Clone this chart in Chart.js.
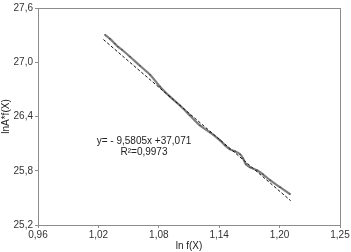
<!DOCTYPE html>
<html><head><meta charset="utf-8">
<script src="https://cdn.jsdelivr.net/npm/chart.js@4.4.0/dist/chart.umd.min.js"></script>
<style>html,body{margin:0;padding:0;background:#fff}#wrap{width:351px;height:252px}</style>
</head><body><div id="wrap"><canvas id="c"></canvas></div>
<script>
const lnF = [1.0266,1.0315,1.0365,1.0395,1.0434,1.0514,1.0613,1.0713,1.0812,1.0911,1.1011,1.1110,1.1209,1.1309,1.1408,1.1458,1.1507,1.1557,1.1607,1.1636,1.1666,1.1706,1.1775,1.1835,1.1905,1.2004,1.2103];
const lnAF = [27.303,27.259,27.204,27.171,27.138,27.061,26.961,26.862,26.730,26.620,26.521,26.411,26.301,26.224,26.136,26.081,26.037,26.015,25.982,25.938,25.872,25.839,25.805,25.761,25.695,25.618,25.541];
const trendX = [1.025, 1.211];
const slope = -9.5805, intercept = 37.071;
const xTickLabels = ['0,96','1,02','1,08','1,14','1,20','1,25'];
const yTickLabels = ['25,2','25,8','26,4','27,0','27,6'];
const annotationLines = ['y= - 9,5805x +37,071','R\u00B2=0,9973'];

const dataPts = lnF.map((x,i)=>({x, y: lnAF[i]}));
const trendPts = trendX.map(x=>({x, y: slope*x+intercept}));

const frame = {
  id:'frame',
  afterDraw(chart){
    const {ctx, chartArea:a, scales} = chart;
    ctx.save();
    ctx.strokeStyle='#8c8c8c'; ctx.lineWidth=1;
    ctx.strokeRect(Math.round(a.left)+0.5, Math.round(a.top)+0.5, Math.round(a.right-a.left), Math.round(a.bottom-a.top));
    ctx.fillStyle='#222'; ctx.font='10px "Liberation Sans", Arial, sans-serif';
    ctx.textAlign='center'; ctx.textBaseline='middle';
    const cx = scales.x.getPixelForValue(1.0653);
    ctx.fillText(annotationLines[0], cx, scales.y.getPixelForValue(26.131));
    ctx.fillText(annotationLines[1], cx, scales.y.getPixelForValue(26.010));
    ctx.restore();
  }
};

new Chart(document.getElementById('c'), {
  type:'scatter',
  data:{datasets:[
    {data:trendPts, showLine:true, borderColor:'#111', borderWidth:1, borderDash:[3,2], pointRadius:0, order:0},
    {data:dataPts, showLine:true, borderColor:'#7e7e7e', borderWidth:2.2, tension:0.3, pointRadius:0.8, pointBackgroundColor:'#444', pointBorderWidth:0, order:1}
  ]},
  plugins:[frame],
  options:{
    responsive:true, maintainAspectRatio:false, animation:false,
    devicePixelRatio:1,
    layout:{padding:{top:6,right:11,left:0,bottom:0}},
    plugins:{legend:{display:false}, tooltip:{enabled:false}},
    scales:{
      x:{type:'linear', min:0.96, max:1.26,
        afterBuildTicks(s){ s.ticks = xTickLabels.map((l,i)=>({value:0.96+0.06*i})); },
        ticks:{callback:(v,i)=>xTickLabels[i], color:'#333', font:{size:10,family:'"Liberation Sans", Arial, sans-serif'}, padding:1, maxRotation:0, autoSkip:false},
        grid:{drawOnChartArea:false, tickLength:3, color:'#8c8c8c'},
        border:{color:'#8c8c8c'},
        title:{display:true, text:'ln f(X)', color:'#222', font:{size:10,family:'"Liberation Sans", Arial, sans-serif'}, padding:{top:1,bottom:0}},
        afterFit(s){ s.height = 27; }
      },
      y:{type:'linear', min:25.2, max:27.6,
        afterBuildTicks(s){ s.ticks = yTickLabels.map((l,i)=>({value:25.2+0.6*i})); },
        ticks:{callback:(v,i)=>yTickLabels[i], color:'#333', font:{size:10,family:'"Liberation Sans", Arial, sans-serif'}, padding:2, autoSkip:false},
        grid:{drawOnChartArea:false, tickLength:3, color:'#8c8c8c'},
        border:{color:'#8c8c8c'},
        title:{display:true, text:'lnA*f(X)', color:'#222', font:{size:10,family:'"Liberation Sans", Arial, sans-serif'}, padding:{top:0,bottom:0}},
        afterFit(s){ s.width = 38; }
      }
    }
  }
});
</script></body></html>
